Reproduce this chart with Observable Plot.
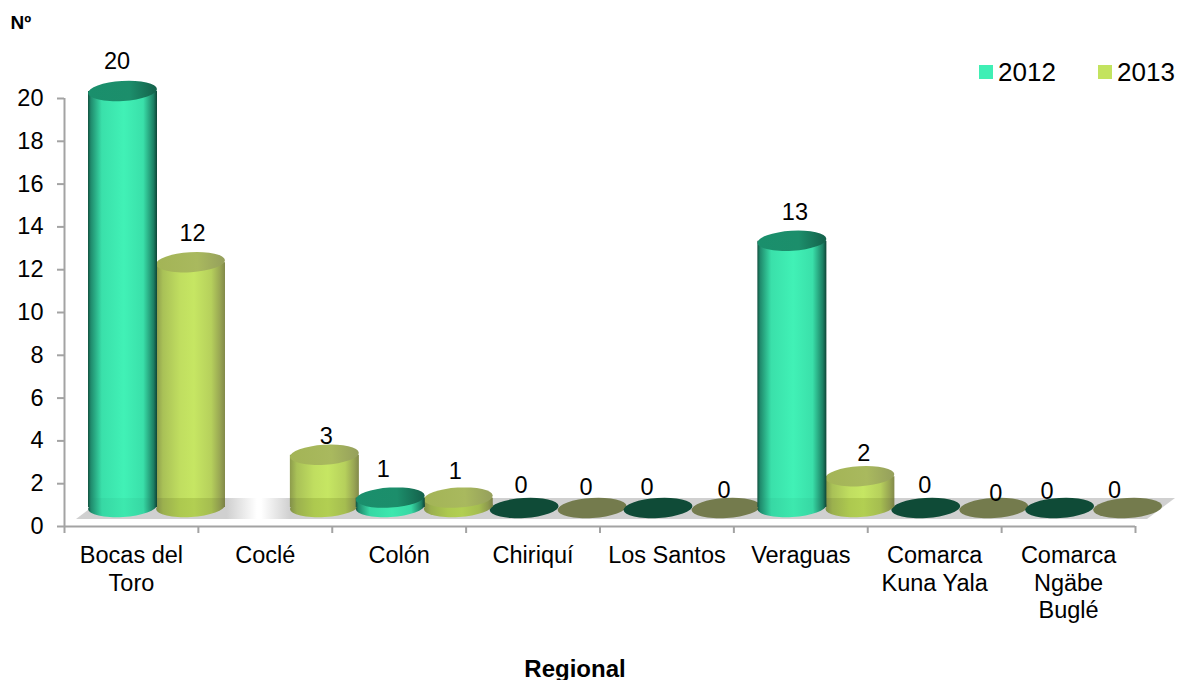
<!DOCTYPE html>
<html lang="es">
<head>
<meta charset="utf-8">
<script src="https://cdn.jsdelivr.net/npm/d3@7"></script>
<script src="https://cdn.jsdelivr.net/npm/@observablehq/plot@0.6"></script>
<style>
  html, body { margin: 0; padding: 0; background: #fff; }
  #chart { position: relative; width: 1179px; height: 680px; font-family: "Liberation Sans", Arial, sans-serif; color: #000; }
  #chart svg { position: absolute; left: 0; top: 0; }
  .legend { position: absolute; top: 54px; font-size: 26px; line-height: 36px; display: flex; align-items: center; }
  .swatch { display: inline-block; width: 14px; height: 14px; margin-right: 5px; }
</style>
</head>
<body>
<div id="chart"></div>
<script>
// ---- data ----
const regions = ["Bocas del\nToro", "Coclé", "Colón", "Chiriquí", "Los Santos", "Veraguas", "Comarca\nKuna Yala", "Comarca\nNgäbe\nBuglé"];
const values2012 = [20, null, 1, 0, 0, 13, 0, 0];
const values2013 = [12, 3, 1, 0, 0, 2, 0, 0];
const yTicks = [0, 2, 4, 6, 8, 10, 12, 14, 16, 18, 20];
const seriesNames = ["2012", "2013"];

// ---- look of the pseudo-3D columns ----
const pxX = 133.875, pxY = 21.4;           // pixels per unit on each scale
const halfWidth = 34.5 / pxX;
const slot = {"2012": 58.5 / pxX, "2013": 126.5 / pxX};
const bottomCentre = 19 / pxY;             // columns stand on the floor, above the axis
const topLift = 7 / pxY;
const zeroLevel = 18 / pxY;
const ell = 10 / pxY;
const waterline = 28 / pxY;
const colors = {
  "2012": {zero: "#0f4b37", swatch: "#3fefb5"},
  "2013": {zero: "#747b4d", swatch: "#c3e35f"}
};
// label offsets (px) in reading order, the labels were hand-placed in the original
const labelNudge = [
  [-6, -30], [1.5, -29], [1.5, -19], [-7.5, -28.6], [-3.5, -26.6],
  [-3.5, -23], [-6.5, -21], [-11.5, -21], [-2.5, -18],
  [2.5, -29], [3.5, -23], [-1.5, -23], [1.5, -15], [-13, -17], [-13.5, -18]
];

const rows = [];
regions.forEach((region, i) => {
  if (values2012[i] !== null) rows.push({i, series: "2012", value: values2012[i]});
  rows.push({i, series: "2013", value: values2013[i]});
});
rows.forEach((d, k) => {
  d.cx = d.i + slot[d.series];
  d.x1 = d.cx - halfWidth;
  d.x2 = d.cx + halfWidth;
  d.top = d.value > 0 ? d.value + topLift : zeroLevel;
  d.labelX = d.cx + labelNudge[k][0] / pxX;
  d.labelY = d.top - labelNudge[k][1] / pxY;
});
const standing = rows.filter(d => d.value > 0);
const zeros = rows.filter(d => d.value === 0);
const paintOrder = s => standing.filter(d => d.series === s);

const floor = [
  {y: 7 / pxY, l: 12 / pxX, r: 1083 / pxX},
  {y: waterline, l: 40 / pxX, r: 1111 / pxX}
];

function gradient(defs, id, stops, attrs = {}) {
  const g = defs.append("linearGradient").attr("id", id);
  Object.entries(attrs).forEach(([k, v]) => g.attr(k, v));
  stops.forEach(([o, c]) => g.append("stop").attr("offset", o).attr("stop-color", c));
}
const defsMark = () => {
  const defs = d3.create("svg:defs");
  gradient(defs, "body2012", [[0, "#12503f"], [.04, "#1f8a6c"], [.2, "#3ae0aa"], [.52, "#41f1b6"], [.8, "#3ae0aa"], [.95, "#1c7f63"], [1, "#0f4436"]]);
  gradient(defs, "low2012", [[0, "#12503f"], [.04, "#1f8a6c"], [.2, "#37d8a4"], [.52, "#3de8ae"], [.8, "#37d8a4"], [.95, "#1c7f63"], [1, "#0f4436"]]);
  gradient(defs, "top2012", [[0, "#1a8f6c"], [.6, "#1c8e6b"], [1, "#14604a"]]);
  gradient(defs, "body2013", [[0, "#8d9c4c"], [.1, "#a9c157"], [.35, "#c0de60"], [.55, "#c6e663"], [.8, "#b6d05c"], [.93, "#98a553"], [1, "#82894a"]]);
  gradient(defs, "low2013", [[0, "#82904a"], [.1, "#9bb04e"], [.35, "#adc94f"], [.55, "#b2cf52"], [.8, "#a5bd50"], [.93, "#8e9a4e"], [1, "#7a8046"]]);
  gradient(defs, "top2013", [[0, "#a3b456"], [.6, "#a9b95e"], [1, "#959f5c"]]);
  gradient(defs, "floorFill", [[0, "#d0d0d0"], [.152, "#d0d0d0"], [.18, "#ffffff"], [.184, "#ffffff"], [.211, "#d0d0d0"], [1, "#d0d0d0"]],
    {gradientUnits: "userSpaceOnUse", x1: 64, x2: 1135, y1: 0, y2: 0});
  return defs.node();
};

function cylinders(series) {
  const d = paintOrder(series);
  const lowTop = v => Math.min(v.top, waterline);
  return [
    Plot.rect(d, {x1: "x1", x2: "x2", y1: v => bottomCentre - ell, y2: v => bottomCentre + ell, rx: 34.5, ry: 10, fill: `url(#low${series})`}),
    Plot.rect(d, {x1: "x1", x2: "x2", y1: bottomCentre, y2: lowTop, fill: `url(#low${series})`}),
    Plot.rect(d.filter(v => v.top > waterline), {x1: "x1", x2: "x2", y1: waterline, y2: "top", fill: `url(#body${series})`}),
    Plot.rect(d, {x1: "x1", x2: "x2", y1: v => v.top - ell, y2: v => v.top + ell, rx: 34.5, ry: 10, fill: `url(#top${series})`})
  ];
}

const fontSize = 23.5;
const gray = "#a3a3a3";
const plot = Plot.plot({
  width: 1179,
  height: 680,
  marginLeft: 64,
  marginRight: 44,
  marginTop: 98,
  marginBottom: 154,
  style: {fontFamily: '"Liberation Sans", Arial, sans-serif', fontSize: fontSize + "px", color: "#000", background: "transparent"},
  x: {domain: [0, regions.length], range: [64, 1135], axis: null},
  y: {domain: [0, 20], range: [526, 98], axis: null},
  marks: [
    defsMark,
    Plot.area(floor, {x1: "l", x2: "r", y1: "y", y2: "y", fill: "url(#floorFill)"}),
    Plot.ruleX([0], {stroke: gray, strokeWidth: 2}),
    Plot.ruleY([0], {stroke: gray, strokeWidth: 2}),
    Plot.axisY({ticks: yTicks, tickSize: 7, tickPadding: 14, stroke: gray, strokeWidth: 2, color: "#000", fontSize, label: null, tickFormat: d => String(d)}),
    Plot.axisX({ticks: d3.range(0, regions.length + 1), tickSize: 7, stroke: gray, strokeWidth: 2, tickFormat: () => "", label: null}),
    Plot.axisX({
      ticks: regions.map((_, i) => i + 0.5),
      tickSize: 0,
      tickPadding: 17,
      lineHeight: 1.175,
      lineAnchor: "top",
      fontSize,
      fill: "#000",
      label: null,
      tickFormat: v => regions[Math.floor(v)]
    }),
    Plot.rect(zeros.filter(d => d.series === "2013"), {x1: "x1", x2: "x2", y1: d => d.top - ell, y2: d => d.top + ell, rx: 34.5, ry: 10, fill: colors["2013"].zero}),
    Plot.rect(zeros.filter(d => d.series === "2012"), {x1: "x1", x2: "x2", y1: d => d.top - ell, y2: d => d.top + ell, rx: 34.5, ry: 10, fill: colors["2012"].zero}),
    ...cylinders("2013"),
    ...cylinders("2012"),
    Plot.text(rows, {x: "labelX", y: "labelY", text: d => String(d.value), fontSize, fill: "#000"}),
    Plot.text(["Nº"], {frameAnchor: "top-left", dx: -54, dy: -83, fontWeight: "bold", fontSize: 19, fill: "#000", lineAnchor: "top"}),
    Plot.text(["Regional"], {frameAnchor: "bottom", dx: -25, dy: 150, fontWeight: "bold", fontSize: 24, fill: "#000", lineAnchor: "bottom"})
  ]
});

// the original's ellipses lean slightly, rising to the right
plot.querySelectorAll("rect").forEach(r => {
  const h = +r.getAttribute("height"), w = +r.getAttribute("width");
  if (Math.abs(h - 20) < 0.6 && Math.abs(w - 69) < 0.6) {
    const cx = +r.getAttribute("x") + w / 2, cy = +r.getAttribute("y") + h / 2;
    r.setAttribute("transform", `rotate(-3.5 ${cx} ${cy})`);
  }
});

const host = document.getElementById("chart");
host.appendChild(plot);
[[seriesNames[0], 979], [seriesNames[1], 1098]].forEach(([name, left]) => {
  const el = document.createElement("div");
  el.className = "legend";
  el.style.left = left + "px";
  const sw = document.createElement("span");
  sw.className = "swatch";
  sw.style.background = colors[name].swatch;
  el.appendChild(sw);
  el.appendChild(document.createTextNode(name));
  host.appendChild(el);
});
</script>
</body>
</html>
